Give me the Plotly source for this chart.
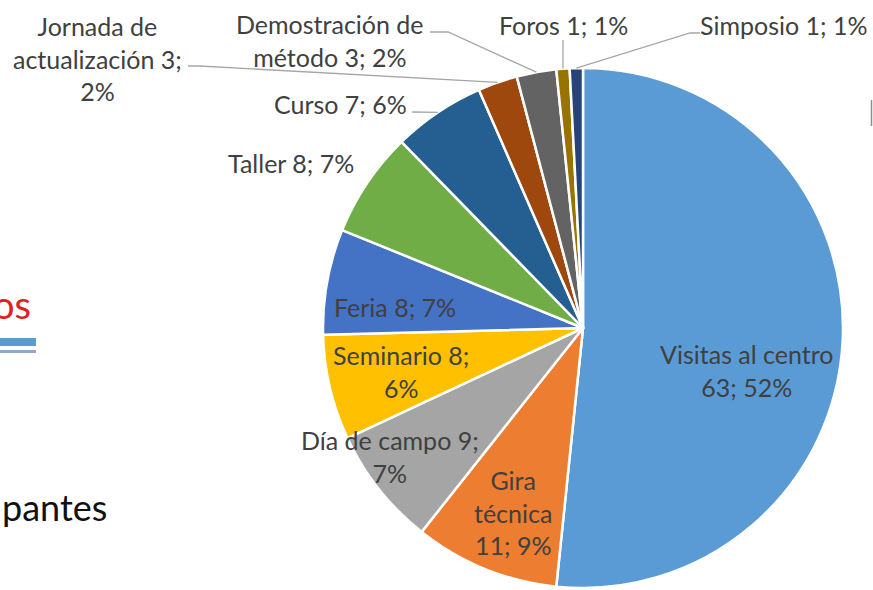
import math
import plotly.graph_objects as go

# ---------------- data ----------------
categories = ["Visitas al centro", "Gira técnica", "Día de campo", "Seminario", "Feria",
              "Taller", "Curso", "Jornada de actualización", "Demostración de método",
              "Foros", "Simposio"]
values = [63, 11, 9, 8, 8, 8, 7, 3, 3, 1, 1]
percent_labels = ["52%", "9%", "7%", "6%", "7%", "7%", "6%", "2%", "2%", "1%", "1%"]

# ---------------- style / layout ----------------
W, H = 873, 590
colors = ["#5B9BD5", "#ED7D31", "#A5A5A5", "#FFC000", "#4472C4", "#70AD47",
          "#255E91", "#9E480E", "#636363", "#997300", "#264478"]
CX, CY, R = 583, 328, 260          # pie centre / radius in pixels
FONT = "Lato"
TXT = "#404040"
FS = 25

# word index after which a line break is inserted, per label
breaks = [[3], [1, 2], [4], [2], [], [], [], [2, 4], [2], [], []]
# label centres (px)
label_pos = [(747, 370), (513, 512), (390, 456), (401, 371), (395, 307), (291, 163),
             (340, 104), (97, 58), (330, 40), (563, 25), (784, 25)]
# leader-line start points (label side, px) for outside labels
leaders = {6: [(412, 112)], 7: [(188, 66), (200, 66)], 8: [(430, 32), (448, 32)],
           9: [(563, 40)], 10: [(700, 33), (690, 33)]}


def px(x):
    return x / W


def py(y):
    return 1 - y / H


def label_text(i):
    words = f"{categories[i]} {values[i]}; {percent_labels[i]}".split(" ")
    out = ""
    for k, w in enumerate(words):
        out += w
        if k < len(words) - 1:
            out += "<br>" if (k + 1) in breaks[i] else " "
    return out


total = sum(values)
fig = go.Figure(go.Pie(
    labels=categories, values=values, sort=False, direction="clockwise", rotation=0,
    marker=dict(colors=colors, line=dict(color="white", width=2.5)),
    textinfo="none", hoverinfo="label+value+percent", showlegend=False,
    domain=dict(x=[px(CX - R), px(CX + R)], y=[py(CY + R), py(CY - R)]),
))

annotations = []
for i in range(len(categories)):
    x, y = label_pos[i]
    annotations.append(dict(x=px(x), y=py(y), xref="paper", yref="paper", text=label_text(i),
                            showarrow=False, xanchor="center", yanchor="middle", align="center",
                            font=dict(family=FONT, size=FS, color=TXT)))

shapes = []
cum = 0
for i, v in enumerate(values):
    mid = (cum + v / 2) / total * 2 * math.pi
    cum += v
    if i in leaders:
        ex, ey = CX + R * math.sin(mid), CY - R * math.cos(mid)
        pts = leaders[i] + [(ex, ey)]
        path = "M " + " L ".join(f"{px(a):.5f},{py(b):.5f}" for a, b in pts)
        shapes.append(dict(type="path", path=path, xref="paper", yref="paper",
                           line=dict(color="#A6A6A6", width=1.3)))

# cropped fragments of the surrounding slide
annotations.append(dict(x=px(33), y=py(304), xref="paper", yref="paper", text="os",
                        showarrow=False, xanchor="right", yanchor="middle",
                        font=dict(family=FONT, size=38, color="#E0201B")))
annotations.append(dict(x=px(0), y=py(507), xref="paper", yref="paper", text="pantes",
                        showarrow=False, xanchor="left", yanchor="middle",
                        font=dict(family=FONT, size=36, color="#111111")))
shapes.append(dict(type="rect", xref="paper", yref="paper", x0=px(0), x1=px(36),
                   y0=py(346), y1=py(338), fillcolor="#5B9BD5", line=dict(width=0)))
shapes.append(dict(type="rect", xref="paper", yref="paper", x0=px(0), x1=px(36),
                   y0=py(353), y1=py(350), fillcolor="#8FA9C9", line=dict(width=0)))
shapes.append(dict(type="line", xref="paper", yref="paper", x0=px(871.5), x1=px(871.5),
                   y0=py(100), y1=py(126), line=dict(color="#8C8C8C", width=1.5)))

fig.update_layout(width=W, height=H, margin=dict(l=0, r=0, t=0, b=0),
                  paper_bgcolor="white", plot_bgcolor="white",
                  annotations=annotations, shapes=shapes)
fig.write_html("out.html", config={"displayModeBar": False},
               post_script="document.body.style.margin='0';document.body.style.overflow='hidden';")
